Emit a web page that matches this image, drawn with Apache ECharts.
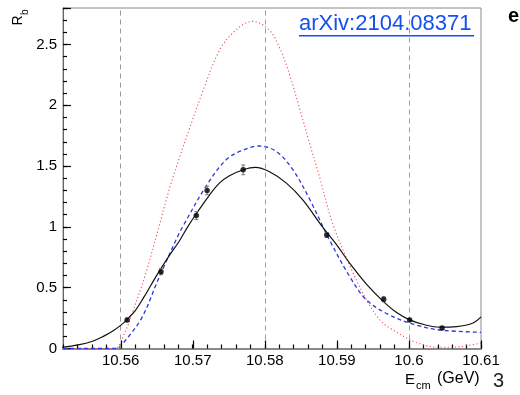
<!DOCTYPE html>
<html>
<head>
<meta charset="utf-8">
<script src="https://cdn.jsdelivr.net/npm/echarts@6/dist/echarts.min.js"></script>
<style>
html,body{margin:0;padding:0;background:#fff;}
#main{width:520px;height:395px;}
</style>
</head>
<body>
<div id="main"></div>
<script>
// ---- Data ----
const xMajor = [10.56, 10.57, 10.58, 10.59, 10.60, 10.61];
const xTickLabels = ['10.56', '10.57', '10.58', '10.59', '10.6', '10.61'];
const yMajor = [0, 0.5, 1, 1.5, 2, 2.5];
const yTickLabels = ['0', '0.5', '1', '1.5', '2', '2.5'];

// thresholds (vertical dashed lines)
const thresholds = [10.5587, 10.5794, 10.6044];

// measured points
const dataE   = [10.5609, 10.5656, 10.5705, 10.5720, 10.5770, 10.5886, 10.5965, 10.6001, 10.6046];
const dataR   = [0.235, 0.632, 1.093, 1.299, 1.469, 0.934, 0.405, 0.235, 0.169];
const dataErr = [0.015, 0.025, 0.033, 0.035, 0.04, 0.02, 0.02, 0.012, 0.012];

// black solid fit curve
const fitE = [10.5518, 10.5541, 10.5561, 10.5576, 10.5588, 10.5600, 10.5609, 10.5620, 10.5632, 10.5642, 10.5653,
  10.5667, 10.5681, 10.5693, 10.5704, 10.5723, 10.5737, 10.5751, 10.5770, 10.5787, 10.5806, 10.5830, 10.5853,
  10.5880, 10.5900, 10.5918, 10.5941, 10.5964, 10.5982, 10.6001, 10.6022, 10.6043, 10.6066, 10.6089, 10.6100];
const fitR = [0.01, 0.03, 0.06, 0.10, 0.14, 0.19, 0.24, 0.31, 0.42, 0.52, 0.63,
  0.76, 0.88, 1.00, 1.10, 1.26, 1.36, 1.42, 1.47, 1.49, 1.455, 1.36, 1.22,
  1.00, 0.85, 0.70, 0.53, 0.39, 0.30, 0.235, 0.195, 0.175, 0.18, 0.21, 0.26];

// blue dashed curve
const blueE = [10.5520, 10.5593, 10.5607, 10.5630, 10.5653, 10.5679, 10.5686, 10.5718, 10.5746, 10.5769, 10.5792,
  10.5816, 10.5839, 10.5862, 10.5890, 10.5918, 10.5941, 10.5973, 10.6010, 10.6043, 10.6100];
const blueR = [0, 0, 0.07, 0.26, 0.58, 0.92, 1.00, 1.33, 1.55, 1.63, 1.665,
  1.62, 1.47, 1.23, 0.89, 0.59, 0.40, 0.276, 0.193, 0.152, 0.133];

// red dotted curve
const redE = [10.5520, 10.5591, 10.5605, 10.5616, 10.5635, 10.5653, 10.5667, 10.5681, 10.5695, 10.5713, 10.5737,
  10.5760, 10.5783, 10.5806, 10.5820, 10.5834, 10.5848, 10.5862, 10.5876, 10.5894, 10.5918, 10.5941, 10.5959,
  10.5973, 10.6010, 10.6043, 10.6071, 10.6100];
const redR = [0, 0, 0.12, 0.29, 0.62, 1.00, 1.30, 1.56, 1.80, 2.10, 2.45,
  2.62, 2.69, 2.62, 2.48, 2.26, 1.98, 1.69, 1.41, 1.03, 0.68, 0.40, 0.24,
  0.17, 0.05, 0.01, 0.015, 0.045];

const X_MIN = 10.552, X_MAX = 10.61, Y_MIN = 0, Y_MAX = 2.8;
const pairs = (xs, ys) => xs.map((x, i) => [x, ys[i]]);
const FONT = 'Liberation Sans, Arial, Helvetica, sans-serif';
const TICK = '#000000';
const labelOf = (vals, labels) => v => { const i = vals.findIndex(m => Math.abs(m - v) < 1e-7); return i >= 0 ? labels[i] : ''; };

const chart = echarts.init(document.getElementById('main'));

chart.setOption({
  animation: false,
  grid: {left: 63, right: 39, top: 8, bottom: 46.5, show: true, borderColor: '#8a8a8a', borderWidth: 1},
  xAxis: [{
    type: 'value', min: X_MIN, max: X_MAX, interval: 0.002,
    axisLine: {show: true, onZero: false, lineStyle: {color: '#8a8a8a', width: 2}},
    axisTick: {show: true, inside: true, length: 4, lineStyle: {color: TICK, width: 1.2}},
    axisLabel: {
      customValues: xMajor, fontSize: 15, color: '#000', margin: 5, fontFamily: FONT,
      formatter: labelOf(xMajor, xTickLabels)
    },
    splitLine: {show: false}
  }],
  yAxis: [{
    type: 'value', min: Y_MIN, max: Y_MAX, interval: 0.5,
    axisLine: {show: true, onZero: false, lineStyle: {color: '#666', width: 1}},
    axisTick: {show: true, inside: true, length: 8, lineStyle: {color: TICK, width: 1.2}},
    axisLabel: {fontSize: 15, color: '#000', margin: 6, fontFamily: FONT, formatter: labelOf(yMajor, yTickLabels)},
    splitLine: {show: false}
  }, {
    type: 'value', min: Y_MIN, max: Y_MAX, interval: 0.1, position: 'left',
    axisLine: {show: false, onZero: false},
    axisTick: {show: true, inside: true, length: 4, lineStyle: {color: TICK, width: 1.2}},
    axisLabel: {show: false},
    splitLine: {show: false}
  }],
  series: [
    {
      type: 'custom', name: 'xMajorTicks', z: 8, silent: true, clip: false,
      data: xMajor.map(v => [v, Y_MIN]),
      renderItem: (params, api) => {
        const p = api.coord([api.value(0), api.value(1)]);
        const x = Math.round(p[0]) + 0.5;
        return {type: 'line', shape: {x1: x, y1: p[1], x2: x, y2: p[1] - 8}, style: {stroke: TICK, lineWidth: 1.2}};
      }
    },
    {
      type: 'line', name: 'red', data: pairs(redE, redR), smooth: 0.35, showSymbol: false,
      lineStyle: {color: '#ef5050', width: 1.1, type: [1.2, 2.4]}, z: 3,
      markLine: {
        silent: true, symbol: 'none', label: {show: false},
        lineStyle: {color: '#9a9a9a', type: [5, 4], width: 1},
        data: thresholds.map(t => ({xAxis: t}))
      }
    },
    {
      type: 'line', name: 'blue', data: pairs(blueE, blueR), smooth: 0.35, showSymbol: false,
      lineStyle: {color: '#2a35e0', width: 1.3, type: [4, 3]}, z: 4
    },
    {
      type: 'line', name: 'fit', data: pairs(fitE, fitR), smooth: 0.35, showSymbol: false,
      lineStyle: {color: '#111', width: 1.2}, z: 5
    },
    {
      type: 'custom', name: 'errors', z: 6,
      data: dataE.map((x, i) => [x, dataR[i], dataErr[i]]),
      renderItem: (params, api) => {
        const x = api.value(0), y = api.value(1), e = api.value(2);
        const top = api.coord([x, y + e]);
        const bot = api.coord([x, y - e]);
        return {
          type: 'group',
          children: [
            {type: 'line', shape: {x1: top[0], y1: top[1], x2: bot[0], y2: bot[1]}, style: {stroke: '#777', lineWidth: 1}},
            {type: 'line', shape: {x1: top[0] - 2, y1: top[1], x2: top[0] + 2, y2: top[1]}, style: {stroke: '#777', lineWidth: 1}},
            {type: 'line', shape: {x1: bot[0] - 2, y1: bot[1], x2: bot[0] + 2, y2: bot[1]}, style: {stroke: '#777', lineWidth: 1}}
          ]
        };
      }
    },
    {
      type: 'scatter', name: 'data', data: pairs(dataE, dataR), symbol: 'circle', symbolSize: 5.5,
      itemStyle: {color: '#000'}, z: 7
    }
  ],
  graphic: [
    {type: 'text', x: 25, y: 25.5, rotation: Math.PI / 2,
      style: {text: 'R', font: '14px ' + FONT, fill: '#000', textAlign: 'left', textVerticalAlign: 'bottom'}},
    {type: 'text', x: 30, y: 15, rotation: Math.PI / 2,
      style: {text: 'b', font: '10px ' + FONT, fill: '#000', textAlign: 'left', textVerticalAlign: 'bottom'}},
    {type: 'text', x: 405, y: 387,
      style: {text: 'E', font: '15px ' + FONT, fill: '#000', textAlign: 'left', textVerticalAlign: 'bottom'}},
    {type: 'text', x: 416, y: 391,
      style: {text: 'cm', font: '11px ' + FONT, fill: '#000', textAlign: 'left', textVerticalAlign: 'bottom'}},
    {type: 'text', x: 437, y: 387,
      style: {text: '(GeV)', font: '16px ' + FONT, fill: '#000', textAlign: 'left', textVerticalAlign: 'bottom'}},
    {type: 'text', x: 299, y: 35,
      style: {text: 'arXiv:2104.08371', font: '22px ' + FONT, fill: '#1450f0', textAlign: 'left', textVerticalAlign: 'bottom'}},
    {type: 'rect', shape: {x: 299, y: 35, width: 175, height: 1.6}, style: {fill: '#1450f0'}},
    {type: 'text', x: 508, y: 26,
      style: {text: 'e', font: 'bold 20px ' + FONT, fill: '#000', textAlign: 'left', textVerticalAlign: 'bottom'}},
    {type: 'text', x: 493, y: 391,
      style: {text: '3', font: '20px ' + FONT, fill: '#222', textAlign: 'left', textVerticalAlign: 'bottom'}}
  ]
});
</script>
</body>
</html>
